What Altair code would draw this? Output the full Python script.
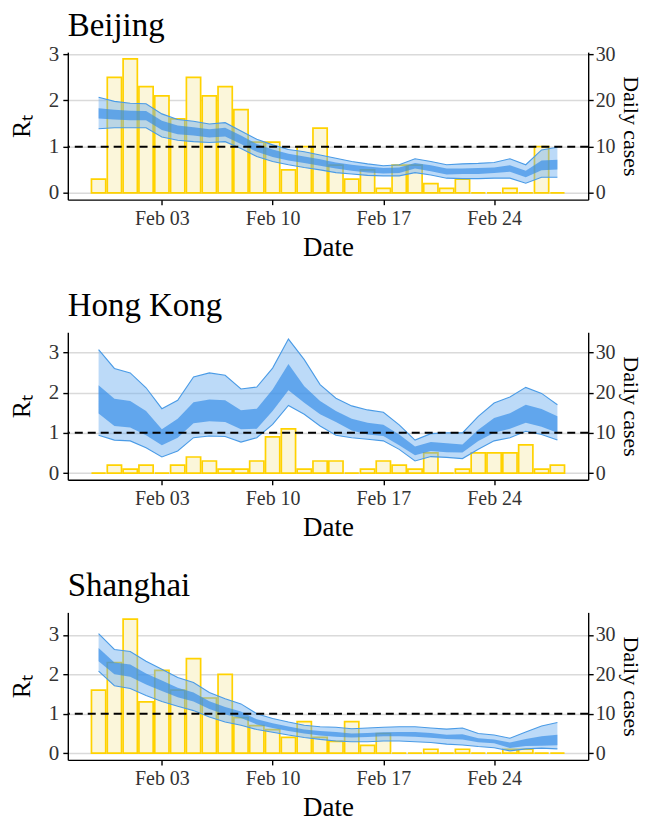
import altair as alt
import pandas as pd

FONT = "Liberation Serif"

dates = ["2020-01-30", "2020-01-31", "2020-02-01", "2020-02-02", "2020-02-03",
         "2020-02-04", "2020-02-05", "2020-02-06", "2020-02-07", "2020-02-08",
         "2020-02-09", "2020-02-10", "2020-02-11", "2020-02-12", "2020-02-13",
         "2020-02-14", "2020-02-15", "2020-02-16", "2020-02-17", "2020-02-18",
         "2020-02-19", "2020-02-20", "2020-02-21", "2020-02-22", "2020-02-23",
         "2020-02-24", "2020-02-25", "2020-02-26", "2020-02-27", "2020-02-28"]
tick_dates = ["2020-02-03", "2020-02-10", "2020-02-17", "2020-02-24"]
tick_labels = ["Feb 03", "Feb 10", "Feb 17", "Feb 24"]

# ---- Beijing ----
bj_cases = [3, 25, 29, 23, 21, 16, 25, 21, 23, 18, 11, 11, 5, 10, 14,
            6, 3, 5, 1, 6, 6, 2, 1, 3, 0, 0, 1, 0, 10, 0]
bj_hi95 = [2.07, 1.98, 1.94, 1.93, 1.71, 1.59, 1.55, 1.49, 1.52, 1.34, 1.16, 1.04, 0.94, 0.89, 0.82,
           0.75, 0.68, 0.63, 0.59, 0.61, 0.74, 0.68, 0.61, 0.63, 0.64, 0.66, 0.74, 0.61, 0.93, 0.99]
bj_hi50 = [1.83, 1.80, 1.78, 1.77, 1.56, 1.46, 1.42, 1.38, 1.41, 1.24, 1.06, 0.94, 0.85, 0.79, 0.73,
           0.66, 0.61, 0.57, 0.54, 0.55, 0.65, 0.60, 0.53, 0.53, 0.54, 0.55, 0.60, 0.48, 0.70, 0.72]
bj_lo50 = [1.61, 1.59, 1.57, 1.57, 1.36, 1.27, 1.24, 1.20, 1.22, 1.06, 0.89, 0.78, 0.70, 0.65, 0.59,
           0.53, 0.48, 0.44, 0.42, 0.43, 0.53, 0.47, 0.40, 0.41, 0.41, 0.43, 0.46, 0.34, 0.49, 0.51]
bj_lo95 = [1.39, 1.41, 1.41, 1.41, 1.21, 1.14, 1.11, 1.09, 1.11, 0.96, 0.79, 0.68, 0.61, 0.55, 0.50,
           0.44, 0.41, 0.38, 0.37, 0.37, 0.44, 0.39, 0.32, 0.31, 0.31, 0.32, 0.32, 0.21, 0.34, 0.34]

# ---- Hong Kong ----
hk_cases = [0, 2, 1, 2, 0, 2, 4, 3, 1, 1, 3, 9, 11, 1, 3,
            3, 0, 1, 3, 2, 1, 5, 0, 1, 5, 5, 5, 7, 1, 2]
hk_hi95 = [3.07, 2.60, 2.49, 2.12, 1.60, 1.81, 2.39, 2.49, 2.43, 2.09, 2.14, 2.61, 3.33, 2.82, 2.20,
           1.86, 1.67, 1.57, 1.51, 1.20, 0.82, 0.98, 1.00, 1.00, 1.41, 1.74, 1.89, 2.13, 1.98, 1.70]
hk_hi50 = [2.18, 1.85, 1.79, 1.54, 1.09, 1.35, 1.76, 1.83, 1.81, 1.56, 1.60, 2.08, 2.71, 2.16, 1.79,
           1.54, 1.35, 1.25, 1.20, 0.96, 0.66, 0.77, 0.74, 0.71, 1.08, 1.37, 1.49, 1.70, 1.59, 1.41]
hk_lo50 = [1.48, 1.17, 1.13, 0.94, 0.69, 0.88, 1.24, 1.29, 1.27, 1.09, 1.10, 1.54, 2.06, 1.75, 1.46,
           1.27, 1.06, 0.96, 0.92, 0.69, 0.44, 0.55, 0.52, 0.51, 0.80, 1.00, 1.10, 1.25, 1.15, 1.00]
hk_lo95 = [0.94, 0.82, 0.80, 0.63, 0.40, 0.55, 0.88, 0.92, 0.91, 0.77, 0.88, 1.21, 1.68, 1.46, 1.17,
           0.94, 0.88, 0.84, 0.80, 0.59, 0.30, 0.41, 0.39, 0.36, 0.59, 0.80, 0.88, 1.04, 0.96, 0.82]

# ---- Shanghai ----
sh_cases = [16, 23, 34, 13, 21, 16, 24, 14, 20, 9, 7, 6, 4, 8, 4,
            3, 8, 2, 5, 0, 0, 1, 0, 1, 0, 0, 1, 1, 0, 0]
sh_hi95 = [3.03, 2.63, 2.58, 2.33, 2.13, 1.92, 1.79, 1.54, 1.38, 1.25, 1.00, 0.88, 0.79, 0.71, 0.67,
           0.66, 0.62, 0.64, 0.66, 0.67, 0.67, 0.64, 0.61, 0.64, 0.50, 0.46, 0.38, 0.54, 0.69, 0.78]
sh_hi50 = [2.67, 2.30, 2.25, 2.02, 1.84, 1.66, 1.54, 1.32, 1.17, 1.06, 0.86, 0.76, 0.68, 0.60, 0.56,
           0.54, 0.50, 0.51, 0.53, 0.54, 0.54, 0.51, 0.47, 0.48, 0.38, 0.35, 0.27, 0.36, 0.43, 0.47]
sh_lo50 = [2.33, 2.00, 1.94, 1.74, 1.58, 1.42, 1.31, 1.12, 0.98, 0.89, 0.73, 0.64, 0.56, 0.50, 0.45,
           0.42, 0.40, 0.41, 0.43, 0.43, 0.42, 0.39, 0.36, 0.35, 0.28, 0.25, 0.13, 0.18, 0.19, 0.20]
sh_lo95 = [2.08, 1.71, 1.64, 1.46, 1.31, 1.19, 1.08, 0.92, 0.79, 0.71, 0.60, 0.53, 0.46, 0.40, 0.35,
           0.31, 0.29, 0.29, 0.31, 0.31, 0.29, 0.27, 0.23, 0.21, 0.17, 0.14, 0.06, 0.11, 0.13, 0.11]

# ---------------------------------------------------------------------------
d0 = pd.Timestamp(dates[0])
idx = [(pd.Timestamp(d) - d0).days for d in dates]
tick_idx = [(pd.Timestamp(d) - d0).days for d in tick_dates]
label_expr = " : ".join(
    f"datum.value == {v} ? '{l}'" for v, l in zip(tick_idx, tick_labels)) + " : ''"

XDOM = [-1.945, 30.945]
W, H = 522, 148

x_axis = alt.Axis(title="Date", values=tick_idx, labelExpr=label_expr, grid=False,
                  labelFontSize=20, titleFontSize=27, tickSize=5, labelPadding=4,
                  titlePadding=6, domainWidth=1.4, tickWidth=1.4)
left_axis = alt.Axis(title="Rₜ", values=[0, 1, 2, 3], format="d", grid=True,
                     gridColor="#dadada", gridWidth=1.5, labelFontSize=21,
                     titleFontSize=26, tickSize=5, labelPadding=4, titlePadding=14,
                     domainWidth=1.4, tickWidth=1.4)
right_axis = alt.Axis(title="Daily cases", orient="right", values=[0, 10, 20, 30],
                      format="d", grid=False, labelFontSize=20, titleFontSize=22,
                      tickSize=5, labelPadding=2, titlePadding=3,
                      domainWidth=1.4, tickWidth=1.4)


def panel(name, cases, lo95, lo50, hi50, hi95, ydom, title_offset):
    df = pd.DataFrame({"idx": idx, "cases": cases, "lo95": lo95, "lo50": lo50,
                       "hi50": hi50, "hi95": hi95})
    df["x0"] = df["idx"] - 0.45
    df["x1"] = df["idx"] + 0.45
    df["zero"] = 0
    base = alt.Chart(df)
    xscale = alt.Scale(domain=XDOM, nice=False, zero=False)
    yscale = alt.Scale(domain=ydom, nice=False, zero=False)
    xenc = alt.X("idx:Q", scale=xscale, axis=x_axis)

    bars = base.mark_bar(fill="#FBF6DA", stroke="#FFD200", strokeWidth=1.7).encode(
        x=alt.X("x0:Q", scale=xscale, axis=x_axis),
        x2="x1:Q",
        y=alt.Y("cases:Q", scale=alt.Scale(domain=[ydom[0] * 10, ydom[1] * 10],
                                            nice=False, zero=False),
                axis=right_axis),
        y2="zero:Q",
    )
    band95 = base.mark_area(color="#6aaef0", opacity=0.45).encode(
        x=xenc, y=alt.Y("lo95:Q", scale=yscale, axis=left_axis), y2="hi95:Q")
    band50 = base.mark_area(color="#2f8ae6", opacity=0.65).encode(
        x=xenc, y=alt.Y("lo50:Q", scale=yscale, axis=left_axis), y2="hi50:Q")
    line_hi = base.mark_line(color="#4a9be6", strokeWidth=1.1).encode(
        x=xenc, y=alt.Y("hi95:Q", scale=yscale, axis=left_axis))
    line_lo = base.mark_line(color="#4a9be6", strokeWidth=1.1).encode(
        x=xenc, y=alt.Y("lo95:Q", scale=yscale, axis=left_axis))
    rule = alt.Chart(pd.DataFrame({"r": [1]})).mark_rule(
        color="black", strokeDash=[8, 5], strokeWidth=2).encode(
        y=alt.Y("r:Q", scale=yscale, axis=left_axis))

    inner = alt.layer(band95, band50, line_hi, line_lo, rule)
    return alt.layer(bars, inner).resolve_scale(y="independent").properties(
        width=W, height=H,
        title=alt.Title(name, anchor="start", frame="group", fontSize=33, font=FONT,
                        fontWeight="normal", color="black", offset=title_offset))


chart = alt.vconcat(
    panel("Beijing", bj_cases, bj_lo95, bj_lo50, bj_hi50, bj_hi95, [-0.145, 3.045], 0),
    panel("Hong Kong", hk_cases, hk_lo95, hk_lo50, hk_hi50, hk_hi95, [-0.167, 3.5], 9),
    panel("Shanghai", sh_cases, sh_lo95, sh_lo50, sh_hi50, sh_hi95, [-0.17, 3.57], 9),
    spacing=30,
).properties(
    padding={"left": 0, "top": 1, "right": 3, "bottom": 0}
).configure_view(stroke=None).configure_axis(
    labelFont=FONT, titleFont=FONT, labelColor="#333333", titleColor="black",
    titleFontWeight="normal", domainColor="black", tickColor="black"
).configure_title(font=FONT)

chart.save("out.html", embed_options={"renderer": "svg", "actions": False})
